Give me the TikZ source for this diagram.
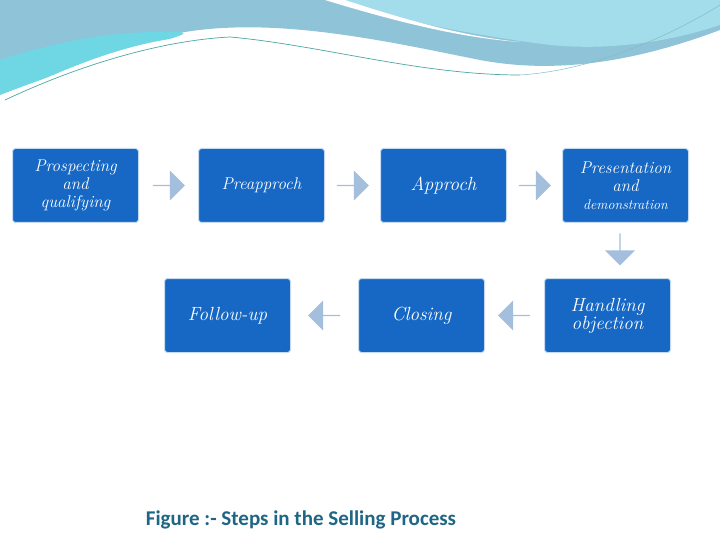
\documentclass[tikz,border=0pt]{standalone}
\usepackage{fontspec}
\newfontfamily\capfont{Carlito}
\usetikzlibrary{shapes.arrows,calc}
\definecolor{boxc}{HTML}{1668C4}
\definecolor{arrc}{HTML}{A4BEDD}
\definecolor{capc}{HTML}{1F6685}
\definecolor{wave1}{HTML}{6FD6E3}
\definecolor{wave2}{HTML}{8FC3D8}
\definecolor{wave3}{HTML}{A3DCEB}
\tikzset{
 stepbox/.style={draw=white!75!boxc,line width=1pt,fill=boxc,rounded corners=3pt,minimum width=126pt,minimum height=74pt,text=white,align=center,font=\itshape\fontsize{17}{18}\selectfont,anchor=north west,inner sep=2pt},
 barrow/.style={single arrow,fill=arrc,draw=none,minimum height=32pt,minimum width=30pt,single arrow head extend=5pt,inner sep=0pt}
}
\begin{document}
\begin{tikzpicture}[x=1pt,y=-1pt]
\useasboundingbox (0,0) rectangle (720,540);
\fill[white] (0,0) rectangle (720,540);
% banner
\fill[wave2] (0,0) -- (720,0) -- (720,30) .. controls (640,60) and (560,75) .. (480,60) .. controls (380,40) and (250,10) .. (150,40) .. controls (80,60) and (30,80) .. (0,90) -- cycle;
\fill[wave1] (0,60) .. controls (60,40) and (120,30) .. (180,32) .. controls (200,35) and (130,45) .. (0,95) -- cycle;
\fill[wave3] (330,0) -- (720,0) -- (720,25) .. controls (660,45) and (600,50) .. (550,45) .. controls (470,35) and (400,20) .. (330,0) -- cycle;
\fill[white] (325,0) .. controls (390,20) and (460,38) .. (520,42) .. controls (460,36) and (400,18) .. (345,0) -- cycle;
\fill[white] (0,100) .. controls (80,60) and (160,30) .. (230,37) .. controls (330,45) and (420,65) .. (520,72) .. controls (600,72) and (680,50) .. (720,38) -- (720,100) -- cycle;
\draw[teal!70,line width=0.7pt] (5,100) .. controls (90,60) and (170,40) .. (230,37) .. controls (320,45) and (420,75) .. (520,75);
\draw[teal!50,line width=0.5pt] (520,75) .. controls (600,70) and (680,30) .. (720,5);
% boxes
\node[stepbox] (p) at (12,148) {Prospecting\\and\\qualifying};
\node[stepbox] (pa) at (198,148) {Preapproch};
\node[stepbox] (a) at (380,148) {\fontsize{19}{20}\selectfont Approch};
\node[stepbox] (pr) at (562,148) {Presentation\\and\\{\fontsize{14}{16}\selectfont demonstration}};
\node[stepbox] (h) at (544,278) {\fontsize{19}{20}\selectfont Handling\\\fontsize{19}{20}\selectfont objection};
\node[stepbox] (c) at (358,278) {\fontsize{19}{20}\selectfont Closing};
\node[stepbox] (f) at (164,278) {\fontsize{19}{20}\selectfont Follow-up};
% arrows
\node[barrow] (a1) at ($(p.east)!0.5!(pa.west)$) {};
\node[barrow] (a2) at ($(pa.east)!0.5!(a.west)$) {};
\node[barrow] (a3) at ($(a.east)!0.5!(pr.west)$) {};
\node[barrow,rotate=-90] (a4) at (620,249) {};
\node[barrow,shape border rotate=180] (a5) at ($(c.east)!0.5!(h.west)$) {};
\node[barrow,shape border rotate=180] (a6) at ($(f.east)!0.5!(c.west)$) {};
% caption
\node[text=capc,font=\capfont\bfseries\fontsize{21}{24}\selectfont] (cap) at (301,520) {Figure :- Steps in the Selling Process};
\end{tikzpicture}
\end{document}
